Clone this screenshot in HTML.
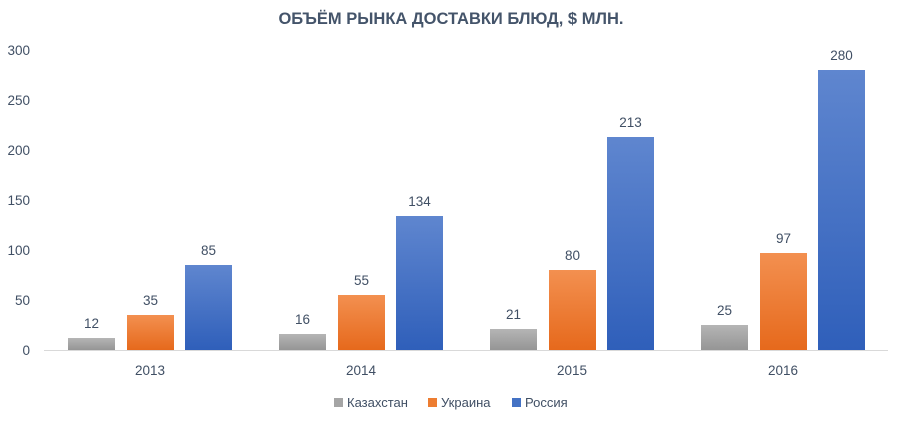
<!DOCTYPE html>
<html><head><meta charset="utf-8"><style>
body{margin:0;background:#fff}
svg{display:block;font-family:"Liberation Sans",sans-serif}
</style></head><body>
<svg width="902" height="424" viewBox="0 0 902 424">
<defs>
<linearGradient id="g" x1="0" y1="0" x2="0" y2="1"><stop offset="0" stop-color="#b5b5b5"/><stop offset="1" stop-color="#959595"/></linearGradient>
<linearGradient id="o" x1="0" y1="0" x2="0" y2="1"><stop offset="0" stop-color="#f39050"/><stop offset="1" stop-color="#e6691c"/></linearGradient>
<linearGradient id="b" x1="0" y1="0" x2="0" y2="1"><stop offset="0" stop-color="#5f86cf"/><stop offset="1" stop-color="#2f5fba"/></linearGradient>
</defs>
<text x="451" y="24" text-anchor="middle" font-size="16.5" font-weight="bold" fill="#44546a">ОБЪЁМ РЫНКА ДОСТАВКИ БЛЮД, $ МЛН.</text>
<g font-size="13.5" fill="#404f64" text-anchor="end">
<text x="30" y="355">0</text><text x="30" y="305">50</text><text x="30" y="255">100</text><text x="30" y="205">150</text><text x="30" y="155">200</text><text x="30" y="105">250</text><text x="30" y="55">300</text>
</g>
<line x1="44" y1="350.5" x2="888" y2="350.5" stroke="#d9d9d9"/>
<g font-size="13.5" fill="#404f64" text-anchor="middle">
<rect x="68" y="338" width="47" height="12" fill="url(#g)"/><text x="91.5" y="328">12</text>
<rect x="127" y="315" width="47" height="35" fill="url(#o)"/><text x="150.5" y="305">35</text>
<rect x="185" y="265" width="47" height="85" fill="url(#b)"/><text x="208.5" y="255">85</text>
<text x="150" y="375">2013</text>
<rect x="279" y="334" width="47" height="16" fill="url(#g)"/><text x="302.5" y="324">16</text>
<rect x="338" y="295" width="47" height="55" fill="url(#o)"/><text x="361.5" y="285">55</text>
<rect x="396" y="216" width="47" height="134" fill="url(#b)"/><text x="419.5" y="206">134</text>
<text x="361" y="375">2014</text>
<rect x="490" y="329" width="47" height="21" fill="url(#g)"/><text x="513.5" y="319">21</text>
<rect x="549" y="270" width="47" height="80" fill="url(#o)"/><text x="572.5" y="260">80</text>
<rect x="607" y="137" width="47" height="213" fill="url(#b)"/><text x="630.5" y="127">213</text>
<text x="572" y="375">2015</text>
<rect x="701" y="325" width="47" height="25" fill="url(#g)"/><text x="724.5" y="315">25</text>
<rect x="760" y="253" width="47" height="97" fill="url(#o)"/><text x="783.5" y="243">97</text>
<rect x="818" y="70" width="47" height="280" fill="url(#b)"/><text x="841.5" y="60">280</text>
<text x="783" y="375">2016</text>
</g>
<g font-size="13" fill="#404f64">
<rect x="334" y="398" width="9" height="9" fill="#a5a5a5"/><text x="347" y="407">Казахстан</text>
<rect x="428" y="398" width="9" height="9" fill="#ed7d31"/><text x="441" y="407">Украина</text>
<rect x="512" y="398" width="9" height="9" fill="#4472c4"/><text x="525" y="407">Россия</text>
</g>
</svg>
</body></html>
